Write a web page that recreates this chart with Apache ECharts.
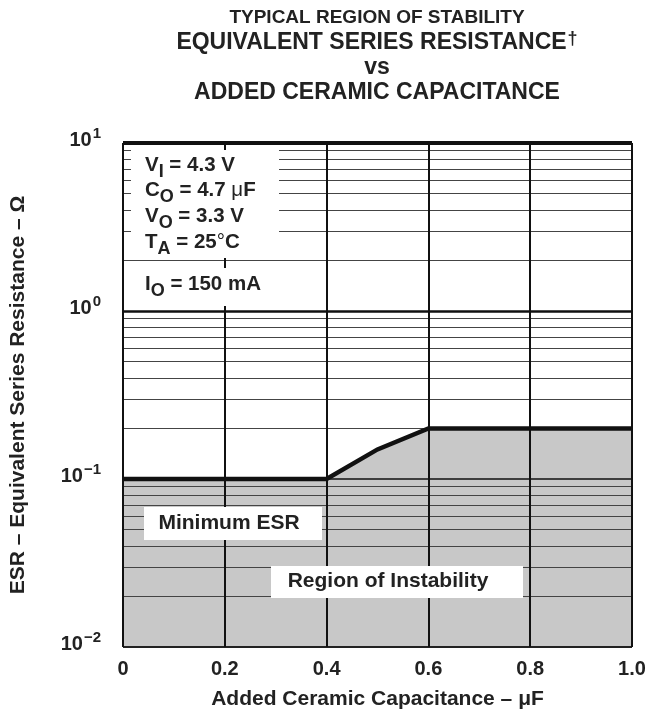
<!DOCTYPE html>
<html><head><meta charset="utf-8">
<script src="https://cdn.jsdelivr.net/npm/echarts@6/dist/echarts.min.js"></script>
<style>html,body{margin:0;padding:0;background:#fff}#c{width:648px;height:712px}</style>
</head><body><div id="c"></div>
<script>
// Data
const capX = [0, 0.4, 0.5, 0.6, 1.0];          // Added ceramic capacitance (µF)
const esrMin = [0.1, 0.1, 0.15, 0.2, 0.2];       // Minimum ESR boundary (Ω)
const xTicks = [0, 0.2, 0.4, 0.6, 0.8, 1.0];
const xTickLabels = ['0', '0.2', '0.4', '0.6', '0.8', '1.0'];
const yDecades = [0.01, 0.1, 1, 10];
const yTickExps = ['\u22122', '\u22121', '0', '1'];
const minorMult = [2, 3, 4, 5, 6, 7, 8, 9];

const F = 'Liberation Sans, Arial, Helvetica, sans-serif';
const INK = '#222';
const minorVals = [];
yDecades.slice(0, 3).forEach(d => minorMult.forEach(m => minorVals.push(+(d * m).toPrecision(3))));

const gridLines = [];
minorVals.forEach(v => gridLines.push({ yAxis: v, lineStyle: { color: '#444', width: 1, type: 'solid' } }));
gridLines.push({ yAxis: 1, lineStyle: { color: '#111', width: 2.5, type: 'solid' } });
gridLines.push({ yAxis: 0.1, lineStyle: { color: '#111', width: 1.5, type: 'solid' } });
gridLines.push({ yAxis: 10, lineStyle: { color: '#111', width: 4, type: 'solid' } });
gridLines.push({ yAxis: 0.01, lineStyle: { color: '#222', width: 2, type: 'solid' } });
xTicks.forEach(v => gridLines.push({ xAxis: v, lineStyle: { color: '#111', width: 2, type: 'solid' } }));

const pts = capX.map((x, i) => [x, esrMin[i]]);

const chart = echarts.init(document.getElementById('c'), null, { renderer: 'canvas' });
const lblRich = {
  a: { fontFamily: F, fontWeight: 'bold', fontSize: 20, color: INK, verticalAlign: 'bottom' },
  b: { fontFamily: F, fontWeight: 'bold', fontSize: 15, color: INK, verticalAlign: 'bottom', padding: [0, 0, 9, 1] }
};
const cRich = {
  m: { fontFamily: F, fontWeight: 'bold', fontSize: 20.5, fill: INK, verticalAlign: 'bottom', padding: [0, 0, 6, 0] },
  s: { fontFamily: F, fontWeight: 'bold', fontSize: 18, fill: INK, verticalAlign: 'bottom' },
  n: { fontFamily: F, fontWeight: 'normal', fontSize: 20.5, fill: INK, verticalAlign: 'bottom', padding: [0, 0, 6, 0] },
  r: { fontFamily: F, fontWeight: 'bold', fontSize: 20.5, fill: INK, verticalAlign: 'bottom', padding: [0, 0, 6, 0] }
};
function condText(main, sub, rest, y) {
  return {
    type: 'text', x: 145, y: y, z: 110,
    style: { text: '{m|' + main + '}{s|' + sub + '}' + rest, fontFamily: F, fontWeight: 'bold', fontSize: 20, fill: INK, verticalAlign: 'middle', rich: cRich }
  };
}
function titleLine(txt, y, size, rich) {
  return { type: 'text', x: 377, y: y, z: 100, style: { text: txt, fontFamily: F, fontWeight: 'bold', fontSize: size, fill: INK, align: 'center', verticalAlign: 'middle', rich: rich } };
}
const option = {
  animation: false,
  grid: { left: 123, right: 16, top: 143, bottom: 65, show: false, containLabel: false, outerBoundsMode: 'none' },
  xAxis: {
    type: 'value', min: 0, max: 1, interval: 0.2,
    axisLine: { show: false }, axisTick: { show: false }, splitLine: { show: false },
    axisLabel: {
      margin: 12, fontFamily: F, fontWeight: 'bold', fontSize: 20, color: INK,
      formatter: v => { const i = xTicks.findIndex(t => Math.abs(t - v) < 1e-9); return i >= 0 ? xTickLabels[i] : ''; }
    },
    name: 'Added Ceramic Capacitance \u2013 \u03bcF', nameLocation: 'middle', nameGap: 42,
    nameTextStyle: { fontFamily: F, fontWeight: 'bold', fontSize: 21, color: INK }
  },
  yAxis: {
    type: 'log', logBase: 10, min: 0.01, max: 10,
    axisLine: { show: false }, axisTick: { show: false }, splitLine: { show: false },
    axisLabel: {
      margin: 22, color: INK, padding: [0, 0, 10, 0],
      formatter: v => { const e = Math.round(Math.log10(v)); const i = yDecades.findIndex(d => Math.abs(Math.log10(d) - e) < 1e-6); return i >= 0 ? '{a|10}{b|' + yTickExps[i] + '}' : ''; },
      rich: lblRich
    },
    name: 'ESR \u2013 Equivalent Series Resistance \u2013 \u03a9', nameLocation: 'middle', nameGap: 94, nameRotate: 90,
    nameTextStyle: { fontFamily: F, fontWeight: 'bold', fontSize: 21, color: INK }
  },
  series: [
    {
      type: 'line', data: pts, symbol: 'none', z: 1, silent: true,
      lineStyle: { width: 0, opacity: 0 },
      areaStyle: { color: '#c8c8c8', opacity: 1, origin: 'start' },
      markLine: { silent: true, symbol: ['none', 'none'], label: { show: false }, z: 5, animation: false, data: gridLines }
    },
    {
      type: 'line', data: pts, symbol: 'none', z: 10, silent: true,
      lineStyle: { color: '#111', width: 4.5, cap: 'butt', join: 'miter' }
    }
  ],
  graphic: [
    titleLine('TYPICAL REGION OF STABILITY', 18, 19),
    titleLine('EQUIVALENT SERIES RESISTANCE{d|\u2020}', 43, 23,
      { d: { fontFamily: F, fontWeight: 'bold', fontSize: 18, fill: INK, verticalAlign: 'bottom', padding: [0, 0, 7, 1] } }),
    titleLine('vs', 68, 23),
    titleLine('ADDED CERAMIC CAPACITANCE', 93, 23),
    // Condition box backgrounds
    { type: 'rect', z: 100, shape: { x: 131, y: 150, width: 148, height: 108 }, style: { fill: '#fff' } },
    { type: 'rect', z: 100, shape: { x: 131, y: 268, width: 148, height: 38 }, style: { fill: '#fff' } },
    condText('V', 'I', '{r| = 4.3 V}', 168),
    condText('C', 'O', '{r| = 4.7 }{n|\u03bc}{r|F}', 193),
    condText('V', 'O', '{r| = 3.3 V}', 219),
    condText('T', 'A', '{r| = 25}{n|\u00b0}{r|C}', 245),
    condText('I', 'O', '{r| = 150 mA}', 287),
    // Region labels
    { type: 'rect', z: 100, shape: { x: 144, y: 507, width: 178, height: 33 }, style: { fill: '#fff' } },
    { type: 'text', x: 229, y: 523, z: 110, style: { text: 'Minimum ESR', fontFamily: F, fontWeight: 'bold', fontSize: 21, fill: INK, align: 'center', verticalAlign: 'middle' } },
    { type: 'rect', z: 100, shape: { x: 271, y: 566, width: 252, height: 32 }, style: { fill: '#fff' } },
    { type: 'text', x: 388, y: 581, z: 110, style: { text: 'Region of Instability', fontFamily: F, fontWeight: 'bold', fontSize: 21, fill: INK, align: 'center', verticalAlign: 'middle' } }
  ]
};
chart.setOption(option);
</script></body></html>
